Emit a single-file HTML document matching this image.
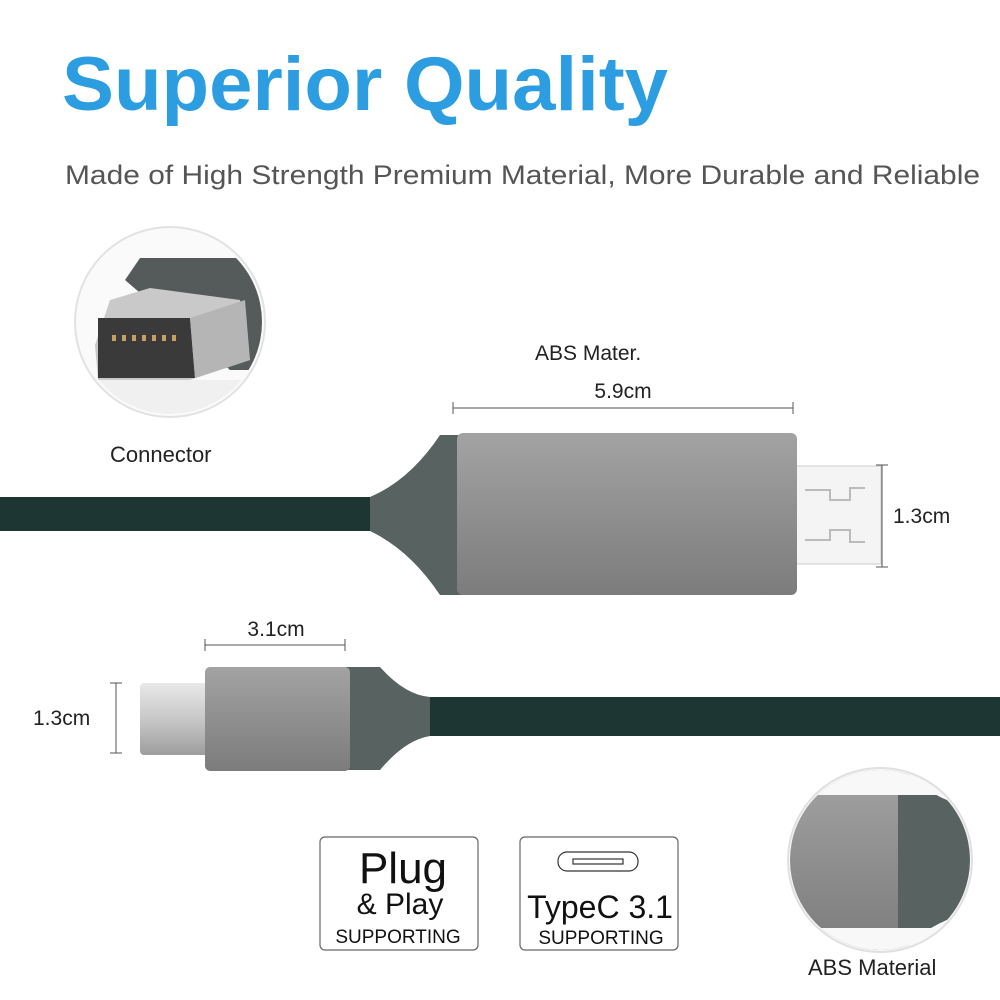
<!DOCTYPE html>
<html><head><meta charset="utf-8"><style>
html,body{margin:0;padding:0;background:#fff;}
svg{display:block;font-family:"Liberation Sans",Arial,sans-serif;}
</style></head><body>
<svg width="1000" height="1000" viewBox="0 0 1000 1000" xmlns="http://www.w3.org/2000/svg">
<defs>
<linearGradient id="body" x1="0" y1="0" x2="0" y2="1">
<stop offset="0" stop-color="#a3a3a3"/><stop offset="0.5" stop-color="#8f8f8f"/><stop offset="1" stop-color="#7c7c7c"/></linearGradient>
<linearGradient id="plug" x1="0" y1="0" x2="0" y2="1">
<stop offset="0" stop-color="#e8e8e8"/><stop offset="0.5" stop-color="#c8c8c8"/><stop offset="1" stop-color="#9d9d9d"/></linearGradient>
<clipPath id="c2"><circle cx="880" cy="860" r="90"/></clipPath>
<clipPath id="c1"><circle cx="170" cy="322" r="92"/></clipPath>
</defs>
<text x="62" y="110" font-size="76" font-weight="bold" fill="#2b9de0" textLength="606" lengthAdjust="spacingAndGlyphs">Superior Quality</text>
<text x="65" y="184" font-size="27" fill="#555" textLength="915" lengthAdjust="spacingAndGlyphs">Made of High Strength Premium Material, More Durable and Reliable</text>

<!-- connector circle -->
<circle cx="170" cy="322" r="95" fill="#fafafa" stroke="#e2e2e2" stroke-width="2"/>
<g clip-path="url(#c1)">
<rect x="60" y="380" width="230" height="60" fill="#f0f0f0"/>
<path d="M125 280 L140 258 L280 258 L280 370 L230 370 Z" fill="#555a5a"/>
<path d="M110 300 L150 288 L240 300 L250 360 L190 380 L98 380 L95 345 Z" fill="#c9c9c9"/>
<path d="M98 318 L190 318 L195 378 L98 378 Z" fill="#3a3a3a"/>
<g fill="#c8a060"><rect x="112" y="335" width="4" height="6"/><rect x="122" y="335" width="4" height="6"/><rect x="132" y="335" width="4" height="6"/><rect x="142" y="335" width="4" height="6"/><rect x="152" y="335" width="4" height="6"/><rect x="162" y="335" width="4" height="6"/><rect x="172" y="335" width="4" height="6"/></g>
<path d="M190 318 L245 300 L250 360 L195 378 Z" fill="#b5b5b5"/>
</g>
<text x="110" y="462" font-size="22" fill="#222">Connector</text>

<!-- HDMI cable -->
<rect x="0" y="497" width="380" height="34" fill="#1d3533"/>
<path d="M370 497 Q410 480 440 435 L462 435 L462 595 L440 595 Q410 550 370 531 Z" fill="#586260"/>
<rect x="795" y="466" width="86" height="98" fill="#f4f4f4" stroke="#ccc"/>
<path d="M805 490 L830 490 L830 500 L850 500 L850 488 L865 488 M805 540 L830 540 L830 530 L850 530 L850 542 L865 542" fill="none" stroke="#bbb" stroke-width="2"/>
<rect x="457" y="433" width="340" height="162" rx="6" fill="url(#body)"/>
<text x="535" y="360" font-size="21" fill="#222">ABS Mater.</text>
<text x="623" y="398" font-size="21" fill="#222" text-anchor="middle">5.9cm</text>
<path d="M453 408 H793 M453 402 V414 M793 402 V414" stroke="#555" stroke-width="1"/>
<path d="M882 465 V567 M876 465 H888 M876 567 H888" stroke="#555" stroke-width="1"/>
<text x="893" y="523" font-size="21" fill="#222">1.3cm</text>

<!-- USB-C cable -->
<rect x="420" y="697" width="580" height="39" fill="#1d3533"/>
<path d="M345 667 L380 667 Q405 695 430 697 L430 736 Q405 740 380 770 L345 770 Z" fill="#586260"/>
<rect x="140" y="683" width="70" height="72" rx="4" fill="url(#plug)"/>
<rect x="205" y="667" width="145" height="104" rx="5" fill="url(#body)"/>
<path d="M205 645 H345 M205 639 V651 M345 639 V651" stroke="#555" stroke-width="1"/>
<text x="276" y="636" font-size="21" fill="#222" text-anchor="middle">3.1cm</text>
<path d="M116 683 V753 M110 683 H122 M110 753 H122" stroke="#555" stroke-width="1"/>
<text x="33" y="725" font-size="21" fill="#222">1.3cm</text>

<!-- ABS circle -->
<circle cx="880" cy="860" r="92" fill="#f8f8f8" stroke="#e0e0e0" stroke-width="2"/>
<g clip-path="url(#c2)">
<rect x="780" y="770" width="120" height="180" fill="url(#body)"/>
<path d="M898 770 L905 770 Q930 800 980 810 L980 910 Q930 920 905 950 L898 950 Z" fill="#586260"/>
<rect x="780" y="770" width="200" height="25" fill="#f8f8f8"/>
<rect x="780" y="928" width="200" height="30" fill="#f8f8f8"/>
</g>
<text x="808" y="975" font-size="22" fill="#222">ABS Material</text>

<!-- badges -->
<rect x="320" y="837" width="158" height="113" rx="5" fill="#fff" stroke="#666" stroke-width="1.2"/>
<text x="403" y="883" font-size="44" fill="#111" text-anchor="middle">Plug</text>
<text x="400" y="914" font-size="30" fill="#111" text-anchor="middle">&amp; Play</text>
<text x="398" y="943" font-size="19" fill="#111" text-anchor="middle">SUPPORTING</text>
<rect x="520" y="837" width="158" height="113" rx="5" fill="#fff" stroke="#666" stroke-width="1.2"/>
<rect x="558" y="852" width="80" height="19" rx="9" fill="none" stroke="#333" stroke-width="1.2"/>
<rect x="573" y="859" width="50" height="5" fill="none" stroke="#333" stroke-width="1.2"/>
<text x="600" y="918" font-size="32" fill="#111" text-anchor="middle">TypeC 3.1</text>
<text x="601" y="944" font-size="19" fill="#111" text-anchor="middle">SUPPORTING</text>
</svg>
</body></html>
